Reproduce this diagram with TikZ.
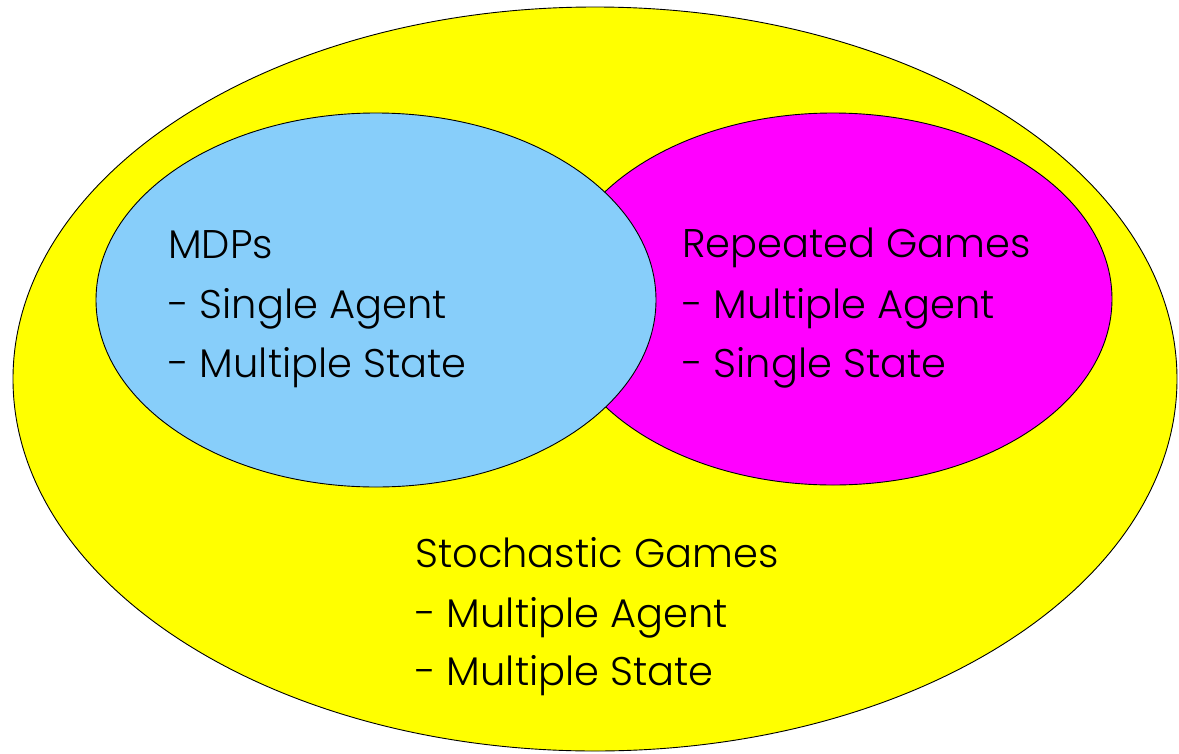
\documentclass[tikz,border=0pt]{standalone}
\usepackage{fontspec}
\setmainfont{Poppins}[UprightFont=* Light]
\usetikzlibrary{shapes.geometric}
\definecolor{sgyellow}{RGB}{255,255,0}
\definecolor{mdpblue}{RGB}{135,206,250}
\definecolor{rgmag}{RGB}{255,0,255}
\tikzset{
  region/.style={ellipse, draw=black, line width=0.9pt, inner sep=0pt},
  lbl/.style={anchor=base west, inner sep=0pt, font=\fontsize{40}{48}\selectfont, text=black}
}
\begin{document}
\begin{tikzpicture}[x=1pt,y=-1pt]
\useasboundingbox (0,0) rectangle (1179,753);
\node[region, fill=sgyellow, minimum width=1164pt, minimum height=744pt] (sg) at (595,379) {};
\node[region, fill=rgmag, minimum width=558pt, minimum height=372pt] (rg) at (833,299) {};
\node[region, fill=mdpblue, minimum width=560pt, minimum height=374pt] (mdp) at (376,300) {};
% MDP text
\node[lbl] (mdpT) at (168,258) {MDPs};
\node[lbl] (mdp1) at (168,318) {- Single Agent};
\node[lbl] (mdp2) at (168,377) {- Multiple State};
% Repeated games text
\node[lbl] (rgT) at (682,257) {Repeated Games};
\node[lbl] (rg1) at (682,318) {- Multiple Agent};
\node[lbl] (rg2) at (682,377) {- Single State};
% Stochastic games text
\node[lbl] (sgT) at (415,567) {Stochastic Games};
\node[lbl] (sg1) at (415,627) {- Multiple Agent};
\node[lbl] (sg2) at (415,685) {- Multiple State};
\end{tikzpicture}
\end{document}
